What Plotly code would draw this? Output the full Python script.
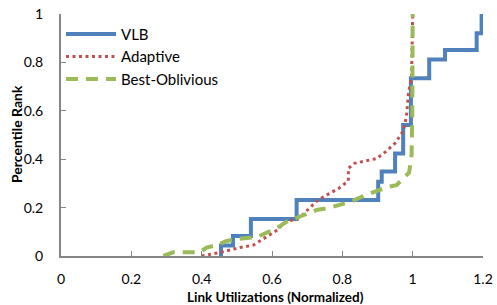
import plotly.graph_objects as go

vlb_x = [0.455, 0.455, 0.489, 0.54, 0.67, 0.902, 0.912, 0.95, 0.973, 0.995, 1.047, 1.092, 1.182, 1.196]
vlb_y = [0.0, 0.043, 0.083, 0.153, 0.231, 0.307, 0.349, 0.424, 0.541, 0.734, 0.812, 0.851, 0.92, 1.0]

ada_x = [0.40, 0.433, 0.45, 0.495, 0.509, 0.547, 0.594, 0.618, 0.632, 0.68, 0.73, 0.79, 0.817, 0.817,
         0.835, 0.898, 0.926, 0.95, 0.969, 0.978, 0.983, 0.988, 0.997, 0.999, 1.0]
ada_y = [0.0, 0.008, 0.014, 0.03, 0.035, 0.045, 0.087, 0.11, 0.135, 0.16, 0.231, 0.28, 0.31, 0.362,
         0.383, 0.403, 0.434, 0.466, 0.507, 0.541, 0.59, 0.672, 0.741, 0.85, 1.0]

obl_x = [0.291, 0.319, 0.395, 0.414, 0.443, 0.471, 0.495, 0.533, 0.561, 0.59, 0.613, 0.642, 0.689,
         0.727, 0.765, 0.822, 0.879, 0.931, 0.954, 0.973, 0.99, 0.997, 0.999, 1.0]
obl_y = [0.0, 0.015, 0.015, 0.035, 0.045, 0.062, 0.069, 0.077, 0.08, 0.1, 0.114, 0.142, 0.169,
         0.19, 0.2, 0.224, 0.259, 0.286, 0.293, 0.321, 0.345, 0.42, 0.6, 1.0]

x_ticks = [0, 0.2, 0.4, 0.6, 0.8, 1, 1.2]
x_labels = ["0", "0.2", "0.4", "0.6", "0.8", "1", "1.2"]
y_ticks = [0, 0.2, 0.4, 0.6, 0.8, 1]
y_labels = ["0", "0.2", "0.4", "0.6", "0.8", "1"]
x_title = "Link Utilizations (Normalized)"
y_title = "Percentile Rank"

FONT = "Lato, Carlito, Calibri, sans-serif"
AX = "#868686"
W, H = 497, 305
L, R, T, B = 61, 14, 14, 49

fig = go.Figure()
fig.add_trace(go.Scatter(x=vlb_x, y=vlb_y, mode="lines", name="VLB", line_shape="hv",
                         line=dict(color="#4F81BD", width=4), cliponaxis=False))
fig.add_trace(go.Scatter(x=ada_x, y=ada_y, mode="lines", name="Adaptive",
                         line=dict(color="#C0504D", width=3, dash="3px,3.5px"), cliponaxis=False))
fig.add_trace(go.Scatter(x=obl_x, y=obl_y, mode="lines", name="Best-Oblivious",
                         line=dict(color="#9BBB59", width=4, dash="12px,8px"), cliponaxis=False))

pw, ph = W - L - R, H - T - B
fig.add_annotation(text="<b>" + x_title + "</b>", xref="paper", yref="paper",
                   x=(275.5 - L) / pw, y=-(297 - T - ph) / ph, xanchor="center", yanchor="middle",
                   showarrow=False, borderpad=0, font=dict(family=FONT, size=13.5))
fig.add_annotation(text="<b>" + y_title + "</b>", xref="paper", yref="paper", textangle=-90,
                   x=-(L - 16) / pw, y=1 - (134 - T) / ph, xanchor="center", yanchor="middle",
                   showarrow=False, borderpad=0, font=dict(family=FONT, size=14))

fig.update_layout(
    width=W, height=H,
    margin=dict(l=L, r=R, t=T, b=B, autoexpand=False),
    paper_bgcolor="white", plot_bgcolor="white",
    font=dict(family=FONT, size=14, color="black"),
    showlegend=True,
    legend=dict(x=0.0, y=0.985, xanchor="left", yanchor="top", bgcolor="rgba(0,0,0,0)",
                font=dict(family=FONT, size=15), tracegroupgap=0, itemwidth=50),
    xaxis=dict(range=[0, 1.2], tickvals=x_ticks, ticktext=x_labels, showgrid=False, zeroline=False,
               showline=True, linecolor=AX, linewidth=2, ticks="inside", ticklen=5, tickcolor=AX,
               tickwidth=1, ticklabelstandoff=9, automargin=False),
    yaxis=dict(range=[0, 1], tickvals=y_ticks, ticktext=y_labels, showgrid=False, zeroline=False,
               showline=True, linecolor=AX, linewidth=2, ticks="inside", ticklen=5, tickcolor=AX,
               tickwidth=1, ticklabelstandoff=13, automargin=False),
)

fig.write_html("out.html", config={"displayModeBar": False},
               post_script="document.body.style.margin='0';document.body.style.overflow='hidden';")
